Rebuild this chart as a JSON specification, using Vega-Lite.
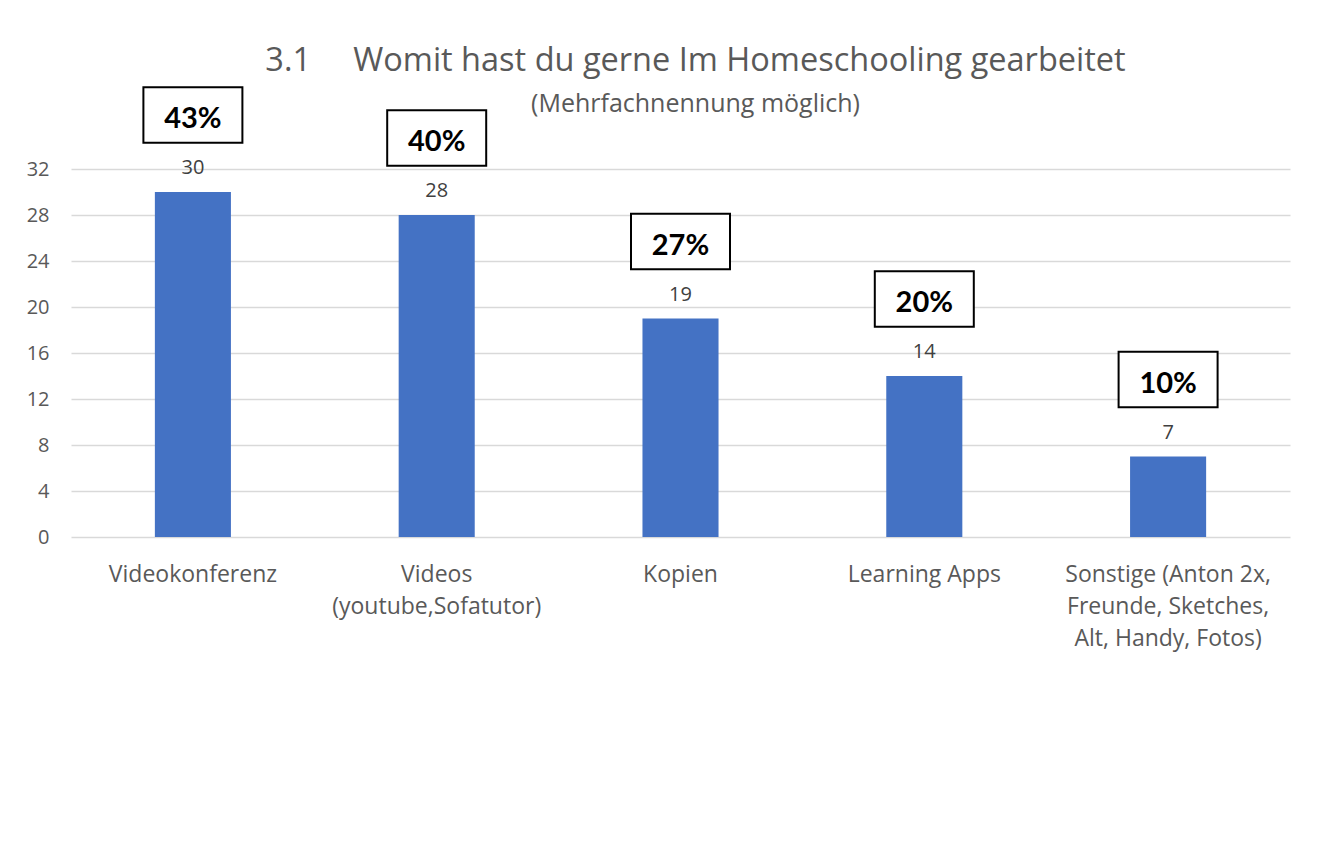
{
  "$schema": "https://vega.github.io/schema/vega-lite/v6.json",
  "width": 1219,
  "height": 368,
  "padding": {"left": 26, "top": 44, "right": 30, "bottom": 10},
  "background": "white",
  "title": {
    "text": "3.1\u00a0\u00a0\u00a0\u00a0\u00a0Womit hast du gerne Im Homeschooling gearbeitet",
    "subtitle": "(Mehrfachnennung möglich)",
    "anchor": "middle",
    "frame": "group",
    "dx": 15,
    "offset": -34,
    "font": "Open Sans",
    "fontSize": 32.5,
    "fontWeight": "normal",
    "color": "#595959",
    "subtitleFont": "Open Sans",
    "subtitleFontSize": 25,
    "subtitleColor": "#595959",
    "subtitlePadding": 15
  },
  "config": {"view": {"stroke": null}},
  "data": {"values": [
    {"Kategorie": "Videokonferenz", "Anzahl": 30, "Anteil": "43%"},
    {"Kategorie": "Videos\n(youtube,Sofatutor)", "Anzahl": 28, "Anteil": "40%"},
    {"Kategorie": "Kopien", "Anzahl": 19, "Anteil": "27%"},
    {"Kategorie": "Learning Apps", "Anzahl": 14, "Anteil": "20%"},
    {"Kategorie": "Sonstige (Anton 2x,\nFreunde, Sketches,\nAlt, Handy, Fotos)", "Anzahl": 7, "Anteil": "10%"}
  ]},
  "encoding": {
    "x": {
      "field": "Kategorie", "type": "nominal", "sort": null,
      "scale": {"paddingInner": 0.688, "paddingOuter": 0.344},
      "axis": {
        "title": null, "domain": false, "ticks": false, "grid": false,
        "labelAngle": 0, "labelFont": "Open Sans", "labelFontSize": 23,
        "labelColor": "#595959", "labelLineHeight": 32, "labelPadding": 26,
        "labelLimit": 0,
        "labelExpr": "split(datum.label, '\\n')"
      }
    },
    "y": {
      "field": "Anzahl", "type": "quantitative",
      "scale": {"domain": [0, 32], "nice": false},
      "axis": {
        "title": null, "domain": false, "ticks": false,
        "values": [0, 4, 8, 12, 16, 20, 24, 28, 32],
        "labelFont": "Open Sans", "labelFontSize": 20, "labelColor": "#595959",
        "labelPadding": 22, "gridColor": "#d9d9d9", "gridWidth": 1.3
      }
    }
  },
  "layer": [
    {"mark": {"type": "bar", "color": "#4472C4"}},
    {
      "mark": {"type": "text", "dy": -18, "baseline": "alphabetic", "font": "Open Sans", "fontSize": 20, "color": "#404040"},
      "encoding": {"text": {"field": "Anzahl", "type": "quantitative"}}
    },
    {
      "mark": {"type": "point", "shape": "M-1,-0.56H1V0.56H-1Z", "size": 9801, "filled": true, "fill": "white", "stroke": "black", "strokeWidth": 2, "opacity": 1, "fillOpacity": 1, "strokeOpacity": 1, "yOffset": -77}
    },
    {
      "mark": {"type": "text", "dy": -64, "baseline": "alphabetic", "font": "Lato", "fontWeight": "bold", "fontSize": 29, "color": "black"},
      "encoding": {"text": {"field": "Anteil", "type": "nominal"}}
    }
  ]
}
